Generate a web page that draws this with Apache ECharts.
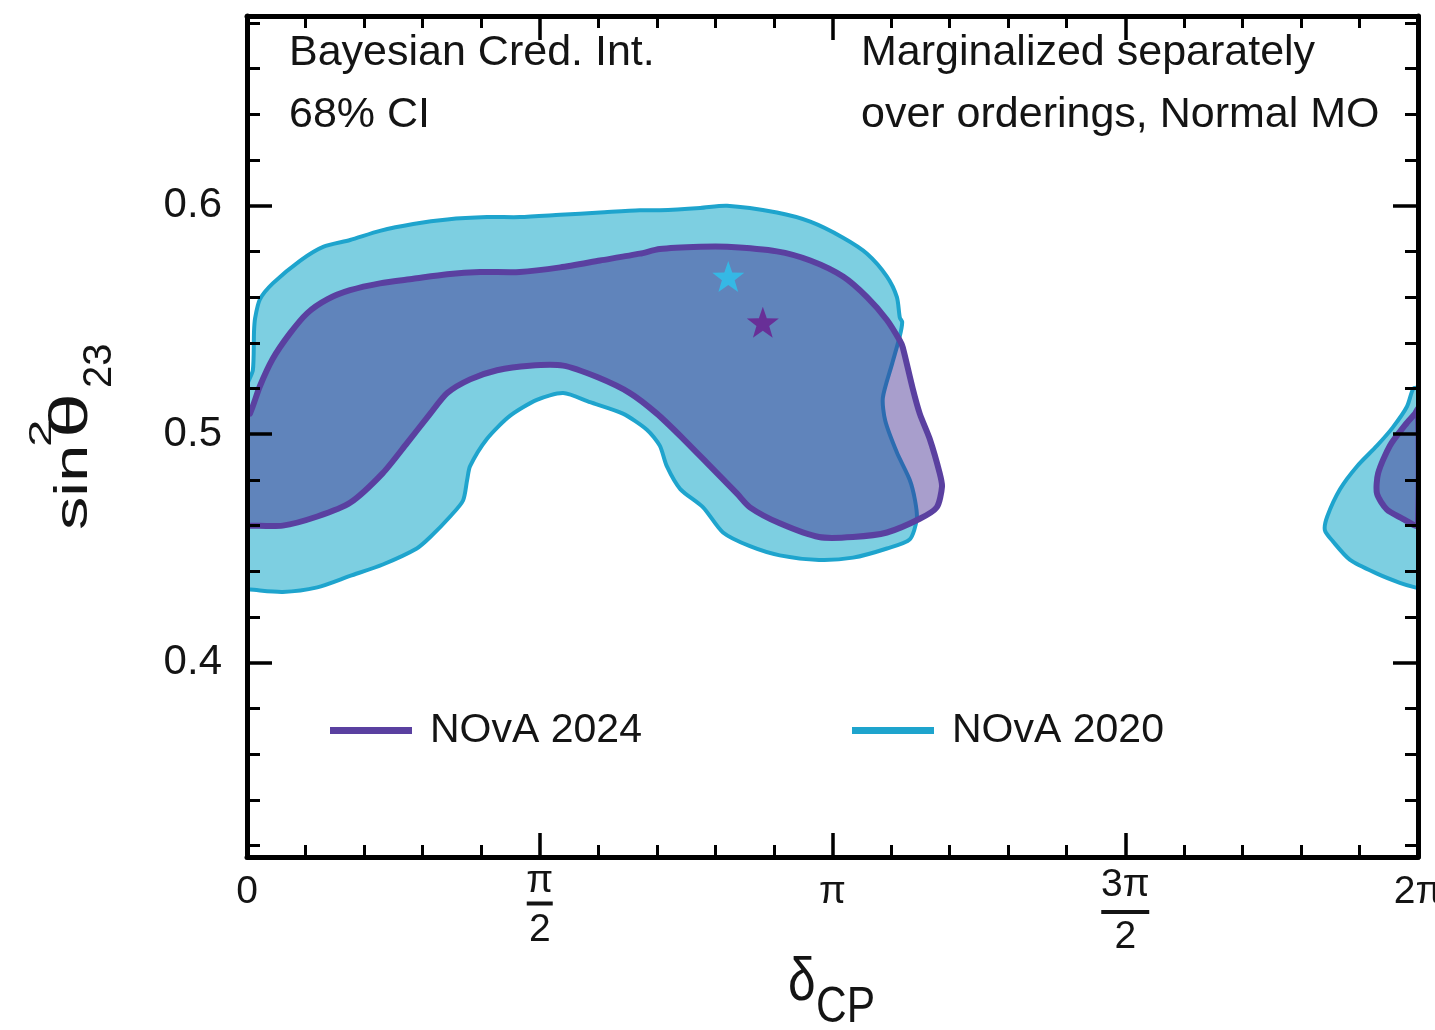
<!DOCTYPE html>
<html>
<head>
<meta charset="utf-8">
<title>NOvA 68% credible intervals in δCP – sin²θ23</title>
<script src="https://cdn.jsdelivr.net/npm/echarts@6/dist/echarts.min.js"></script>
<style>
  html, body { margin: 0; padding: 0; background: #ffffff; }
  #chart { width: 1435px; height: 1030px; }
</style>
</head>
<body>
<div id="chart"></div>
<script>
// ---- axis ticks (δCP expressed in units of π) ----
const deltaTicks = [0, 0.5, 1, 1.5, 2];
const deltaTickLabels = ['0', 'π/2', 'π', '3π/2', '2π'];
const s23MajorTicks = [0.4, 0.5, 0.6];
const s23TickLabels = ['0.4', '0.5', '0.6'];
const s23MinorTicks = [0.32, 0.34, 0.36, 0.38, 0.42, 0.44, 0.46, 0.48,
                       0.52, 0.54, 0.56, 0.58, 0.62, 0.64, 0.66, 0.68];

// ---- NOvA 2020, 68% CI contour (main island) ----
const nova2020Delta = [0, 0, 0.010, 0.012, 0.014, 0.022, 0.044, 0.091, 0.130, 0.176,
  0.227, 0.284, 0.342, 0.410, 0.466, 0.535, 0.603, 0.671, 0.705, 0.774,
  0.820, 0.905, 0.962, 1.018, 1.059, 1.093, 1.110, 1.115, 1.119, 1.115,
  1.102, 1.086, 1.090, 1.110, 1.132, 1.141, 1.144, 1.132, 1.093, 1.035,
  0.977, 0.910, 0.859, 0.813, 0.779, 0.740, 0.717, 0.705, 0.683, 0.642,
  0.586, 0.540, 0.495, 0.449, 0.410, 0.381, 0.376, 0.369, 0.347, 0.313,
  0.290, 0.232, 0.176, 0.120, 0.061, 0.005];
const nova2020S23 = [0.432, 0.521, 0.528, 0.545, 0.551, 0.559, 0.566, 0.576, 0.582, 0.585,
  0.589, 0.592, 0.594, 0.595, 0.595, 0.596, 0.597, 0.598, 0.598, 0.599,
  0.600, 0.597, 0.593, 0.586, 0.579, 0.569, 0.560, 0.551, 0.549, 0.543,
  0.531, 0.516, 0.506, 0.492, 0.480, 0.471, 0.463, 0.454, 0.450, 0.446,
  0.445, 0.447, 0.451, 0.457, 0.468, 0.476, 0.486, 0.495, 0.502, 0.509,
  0.514, 0.518, 0.515, 0.508, 0.498, 0.486, 0.480, 0.471, 0.464, 0.455,
  0.450, 0.443, 0.438, 0.433, 0.431, 0.432];

// ---- NOvA 2020, island wrapping around δCP = 2π ----
const nova2020WrapDelta = [2.0, 1.992, 1.981, 1.957, 1.930, 1.896, 1.867, 1.845, 1.841,
  1.855, 1.884, 1.930, 1.969, 1.995, 2.0];
const nova2020WrapS23 = [0.520, 0.520, 0.512, 0.503, 0.495, 0.486, 0.476, 0.464, 0.458,
  0.453, 0.445, 0.439, 0.435, 0.433, 0.433];

// ---- NOvA 2024, 68% CI contour (main island) ----
const nova2024Delta = [0, 0, 0.005, 0.022, 0.044, 0.073, 0.103, 0.137, 0.176, 0.227,
  0.284, 0.342, 0.398, 0.466, 0.535, 0.603, 0.671, 0.705, 0.774, 0.820,
  0.905, 0.962, 1.018, 1.059, 1.093, 1.115, 1.120, 1.137, 1.149, 1.166,
  1.183, 1.187, 1.178, 1.149, 1.093, 1.035, 0.977, 0.910, 0.859, 0.837,
  0.791, 0.745, 0.700, 0.654, 0.598, 0.540, 0.483, 0.427, 0.381, 0.342,
  0.313, 0.273, 0.232, 0.176, 0.120, 0.061, 0.005];
const nova2024S23 = [0.460, 0.509, 0.509, 0.521, 0.533, 0.544, 0.553, 0.559, 0.563, 0.566,
  0.568, 0.570, 0.571, 0.571, 0.573, 0.576, 0.579, 0.581, 0.582, 0.582,
  0.580, 0.576, 0.569, 0.560, 0.550, 0.541, 0.538, 0.520, 0.509, 0.498,
  0.483, 0.477, 0.468, 0.463, 0.457, 0.455, 0.455, 0.461, 0.468, 0.474,
  0.486, 0.498, 0.509, 0.518, 0.525, 0.530, 0.530, 0.528, 0.524, 0.518,
  0.509, 0.496, 0.483, 0.470, 0.464, 0.460, 0.460];

// ---- NOvA 2024, island wrapping around δCP = 2π ----
const nova2024WrapDelta = [2.0, 1.995, 1.981, 1.952, 1.932, 1.930, 1.947, 1.974, 1.995, 2.0];
const nova2024WrapS23 = [0.511, 0.509, 0.505, 0.495, 0.483, 0.474, 0.467, 0.463, 0.460, 0.460];

// ---- best-fit points [δCP/π, sin²θ23] ----
const bestFit2020 = [0.822, 0.569];
const bestFit2024 = [0.881, 0.549];

// ---- styling ----
const FONT = "'Liberation Sans', Arial, Helvetica, sans-serif";
const INK = '#141414';
const AXIS = '#000000';
const FILL_2020 = '#7dcfe1';
const LINE_2020 = '#1ea4cd';
const FILL_2024 = 'rgba(62, 39, 142, 0.45)';
const LINE_2024 = '#5a40a0';
const STAR_2020 = '#2bc5f0';
const STAR_2024 = '#6a1a8e';
const STAR_PATH = 'path://M50,0 L61.76,33.82 L97.55,34.55 L69.02,56.18 L79.39,90.45 L50,70 L20.61,90.45 L30.98,56.18 L2.45,34.55 L38.24,33.82 Z';

function zip(xs, ys) { return xs.map((x, i) => [x, ys[i]]); }

// closed credible-region contour drawn as one polygon through the axes' scales
function contour(name, xs, ys, fill, stroke, width, z) {
  const pts = zip(xs, ys);
  return {
    type: 'custom',
    name: name,
    coordinateSystem: 'cartesian2d',
    xAxisIndex: 0,
    yAxisIndex: 0,
    clip: true,
    z: z,
    silent: true,
    itemStyle: { color: stroke },
    data: pts,
    encode: { x: 0, y: 1 },
    renderItem: function (params, api) {
      if (params.dataIndex !== 0) return null;
      const points = pts.map(p => api.coord(p));
      return {
        type: 'polygon',
        shape: { points: points, smooth: 0.25 },
        style: { fill: fill, stroke: stroke, lineWidth: width, lineJoin: 'round' }
      };
    }
  };
}

function deltaLabel(v) {
  const i = deltaTicks.findIndex(t => Math.abs(t - v) < 1e-9);
  if (i < 0) return '';
  const s = deltaTickLabels[i];
  if (s.indexOf('/') >= 0) {
    const parts = s.split('/');
    const wide = parts[0].length > 1;
    return '{' + (wide ? 'numW' : 'num') + '|' + parts[0] + '}\n' +
           '{' + (wide ? 'barW' : 'bar') + '| }\n' +
           '{' + (wide ? 'denW' : 'den') + '|' + parts[1] + '}';
  }
  return '{whole|' + s + '}';
}

const tickLine = { color: AXIS, width: 3.5 };
const minorLine = { color: AXIS, width: 3 };

function deltaAxis(position, withLabels) {
  return {
    type: 'value', position: position, min: 0, max: 2, interval: 0.5, z: 10,
    axisLine: { show: true, onZero: false, lineStyle: { color: AXIS, width: 5 } },
    axisTick: { show: true, inside: true, length: 24, lineStyle: tickLine },
    minorTick: { show: true, splitNumber: 5, length: 12, lineStyle: minorLine },
    splitLine: { show: false }, minorSplitLine: { show: false },
    axisLabel: withLabels ? {
      show: true, margin: 15, color: INK, fontFamily: FONT, fontSize: 39,
      showMinLabel: true, showMaxLabel: true, hideOverlap: false,
      customValues: deltaTicks,
      formatter: deltaLabel,
      rich: {
        whole: { fontSize: 39, lineHeight: 40, fontFamily: FONT, color: INK, align: 'center' },
        num:   { fontSize: 39, lineHeight: 18, fontFamily: FONT, color: INK, align: 'center' },
        numW:  { fontSize: 39, lineHeight: 26, fontFamily: FONT, color: INK, align: 'center' },
        bar:   { width: 26, height: 4, lineHeight: 27, fontSize: 4, backgroundColor: INK, align: 'center' },
        barW:  { width: 48, height: 4, lineHeight: 28, fontSize: 4, backgroundColor: INK, align: 'center' },
        den:   { fontSize: 39, lineHeight: 26, fontFamily: FONT, color: INK, align: 'center' },
        denW:  { fontSize: 39, lineHeight: 22, fontFamily: FONT, color: INK, align: 'center' }
      }
    } : { show: false }
  };
}

function s23Axis(position, ticks, len, showLine, withLabels) {
  return {
    type: 'value', position: position, min: 0.315, max: 0.683, z: 10,
    axisLine: { show: showLine, onZero: false, lineStyle: { color: AXIS, width: 5 } },
    axisTick: { show: true, inside: true, length: len, customValues: ticks,
                lineStyle: len > 20 ? tickLine : minorLine },
    splitLine: { show: false },
    axisLabel: withLabels ? {
      show: true, margin: 25, color: INK, fontFamily: FONT, fontSize: 42,
      customValues: s23MajorTicks,
      formatter: v => {
        const i = s23MajorTicks.findIndex(t => Math.abs(t - v) < 1e-9);
        return i < 0 ? '' : s23TickLabels[i];
      }
    } : { show: false }
  };
}

const chart = echarts.init(document.getElementById('chart'), null, { renderer: 'canvas' });

const legendText = { fontSize: 41, fontFamily: FONT, color: INK, padding: [0, 0, 0, 13] };

chart.setOption({
  animation: false,
  backgroundColor: '#ffffff',
  grid: { left: 247, right: 17, top: 16, bottom: 173, containLabel: false, outerBoundsMode: 'none' },
  xAxis: [deltaAxis('bottom', true), deltaAxis('top', false)],
  yAxis: [
    s23Axis('left', s23MajorTicks, 25, true, true),
    s23Axis('left', s23MinorTicks, 13, false, false),
    s23Axis('right', s23MajorTicks, 25, true, false),
    s23Axis('right', s23MinorTicks, 13, false, false)
  ],
  legend: [
    { left: 330, top: 710, padding: 0, itemWidth: 82, itemHeight: 7, selectedMode: false,
      data: [{ name: 'NOvA 2024', icon: 'rect', itemStyle: { color: LINE_2024 } }], textStyle: legendText },
    { left: 852, top: 710, padding: 0, itemWidth: 82, itemHeight: 7, selectedMode: false,
      data: [{ name: 'NOvA 2020', icon: 'rect', itemStyle: { color: LINE_2020 } }], textStyle: legendText }
  ],
  graphic: [
    { type: 'text', x: 289, y: 22, z: 20, silent: true,
      style: { text: 'Bayesian Cred. Int.\n68% CI', fontSize: 43, fontFamily: FONT, fill: INK, lineHeight: 62 } },
    { type: 'text', x: 861, y: 22, z: 20, silent: true,
      style: { text: 'Marginalized separately\nover orderings, Normal MO', fontSize: 43, fontFamily: FONT, fill: INK, lineHeight: 62 } },
    // y-axis title sin²θ23, reading bottom to top
    { type: 'group', x: 88, y: 530, rotation: Math.PI / 2, silent: true, children: [
      { type: 'text', x: 0, y: -14, scaleX: 1.45,
        style: { text: 'sin', fontSize: 46, fontFamily: FONT, fill: INK, verticalAlign: 'middle' } },
      { type: 'text', x: 83, y: -46, scaleX: 1.6,
        style: { text: '2', fontSize: 31, fontFamily: FONT, fill: INK, verticalAlign: 'middle' } },
      { type: 'text', x: 92, y: -16, scaleX: 1.5,
        style: { text: 'θ', fontSize: 54, fontFamily: FONT, fill: INK, verticalAlign: 'middle' } },
      { type: 'text', x: 142, y: 12,
        style: { text: '23', fontSize: 40, fontFamily: FONT, fill: INK, verticalAlign: 'middle' } }
    ]},
    // x-axis title δCP
    { type: 'group', x: 788, y: 1002, silent: true, children: [
      { type: 'text', x: 0, y: -19, scaleX: 0.8,
        style: { text: 'δ', fontSize: 62, fontFamily: FONT, fill: INK, verticalAlign: 'middle' } },
      { type: 'text', x: 28, y: 6, scaleX: 0.85,
        style: { text: 'CP', fontSize: 50, fontFamily: FONT, fill: INK, verticalAlign: 'middle' } }
    ]}
  ],
  series: [
    contour('NOvA 2020', nova2020Delta, nova2020S23, FILL_2020, LINE_2020, 4, 2),
    contour('NOvA 2020', nova2020WrapDelta, nova2020WrapS23, FILL_2020, LINE_2020, 4, 2),
    contour('NOvA 2024', nova2024Delta, nova2024S23, FILL_2024, LINE_2024, 6, 3),
    contour('NOvA 2024', nova2024WrapDelta, nova2024WrapS23, FILL_2024, LINE_2024, 6, 3),
    { type: 'scatter', name: 'NOvA 2020 best fit', xAxisIndex: 0, yAxisIndex: 0, z: 5,
      symbol: STAR_PATH, symbolSize: [32, 31], itemStyle: { color: STAR_2020 },
      data: [bestFit2020], silent: true },
    { type: 'scatter', name: 'NOvA 2024 best fit', xAxisIndex: 0, yAxisIndex: 0, z: 5,
      symbol: STAR_PATH, symbolSize: [32, 31], itemStyle: { color: STAR_2024 },
      data: [bestFit2024], silent: true }
  ]
});
</script>
</body>
</html>
